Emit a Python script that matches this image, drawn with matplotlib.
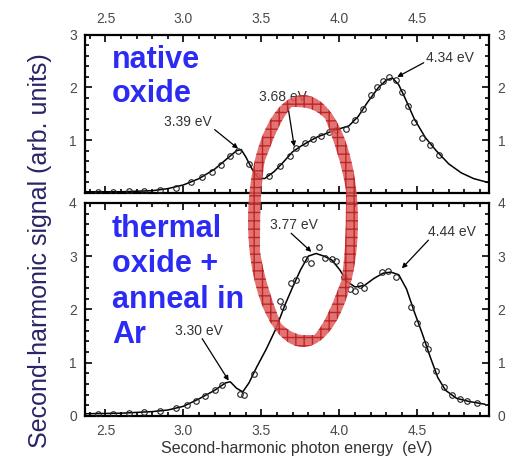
import matplotlib

matplotlib.use("Agg")
import matplotlib.pyplot as plt
from matplotlib.patches import PathPatch
from matplotlib.path import Path
from matplotlib.ticker import MultipleLocator
from matplotlib.transforms import Affine2D

plt.rcParams["font.family"] = ["Liberation Sans", "DejaVu Sans"]

# native oxide: fitted line and measured points
native_line_x = [2.37, 2.6, 2.8, 2.9, 3.0, 3.1, 3.2, 3.28, 3.34, 3.37, 3.40, 3.44, 3.48, 3.52,
                 3.58, 3.63, 3.70, 3.76, 3.85, 3.96, 4.06, 4.12, 4.18, 4.25, 4.30, 4.34, 4.38,
                 4.42, 4.48, 4.55, 4.62, 4.70, 4.78, 4.86, 4.96]
native_line_y = [0.02, 0.02, 0.04, 0.08, 0.15, 0.27, 0.45, 0.65, 0.80, 0.82, 0.68, 0.45, 0.28, 0.27,
                 0.40, 0.55, 0.78, 0.90, 1.05, 1.18, 1.27, 1.45, 1.72, 2.00, 2.14, 2.18, 2.05,
                 1.80, 1.40, 1.05, 0.80, 0.55, 0.38, 0.27, 0.19]
native_pts_x = [2.45, 2.55, 2.65, 2.75, 2.85, 2.95, 3.05, 3.12, 3.18, 3.24, 3.30, 3.35, 3.42, 3.47,
                3.55, 3.62, 3.68, 3.72, 3.78, 3.83, 3.88, 3.93, 3.98, 4.04, 4.10, 4.15, 4.20,
                4.24, 4.28, 4.32, 4.36, 4.40, 4.44, 4.48, 4.53, 4.58, 4.64]
native_pts_y = [0.02, 0.02, 0.03, 0.03, 0.05, 0.10, 0.20, 0.30, 0.40, 0.52, 0.70, 0.80, 0.55, 0.32,
                0.32, 0.50, 0.70, 0.85, 0.95, 1.02, 1.08, 1.15, 1.20, 1.22, 1.38, 1.60, 1.85,
                2.00, 2.12, 2.20, 2.15, 1.92, 1.65, 1.35, 1.05, 0.90, 0.72]

# thermal oxide + anneal in Ar
thermal_line_x = [2.37, 2.6, 2.8, 2.9, 3.0, 3.1, 3.2, 3.27, 3.30, 3.34, 3.38, 3.42, 3.47, 3.53,
                  3.59, 3.65, 3.70, 3.75, 3.80, 3.85, 3.90, 3.95, 4.00, 4.05, 4.10, 4.16, 4.22,
                  4.28, 4.33, 4.38, 4.43, 4.48, 4.53, 4.58, 4.63, 4.68, 4.75, 4.83, 4.93]
thermal_line_y = [0.04, 0.05, 0.08, 0.11, 0.18, 0.32, 0.48, 0.62, 0.64, 0.52, 0.45, 0.62, 0.92, 1.25,
                  1.62, 2.08, 2.42, 2.74, 3.00, 3.05, 3.00, 2.93, 2.75, 2.52, 2.42, 2.45, 2.58,
                  2.68, 2.70, 2.65, 2.38, 1.95, 1.55, 1.12, 0.72, 0.48, 0.33, 0.27, 0.22]
thermal_pts_x = [2.45, 2.55, 2.65, 2.75, 2.85, 2.95, 3.02, 3.08, 3.14, 3.20, 3.25, 3.36, 3.39, 3.45,
                 3.62, 3.64, 3.69, 3.72, 3.78, 3.82, 3.87, 3.91, 3.95, 3.98, 4.03, 4.07, 4.10,
                 4.13, 4.16, 4.27, 4.31, 4.36, 4.46, 4.50, 4.55, 4.57, 4.62, 4.67, 4.72, 4.77,
                 4.82, 4.88]
thermal_pts_y = [0.04, 0.04, 0.05, 0.07, 0.09, 0.14, 0.20, 0.28, 0.37, 0.48, 0.58, 0.42, 0.40, 0.78,
                 2.15, 2.05, 2.50, 2.55, 2.95, 2.88, 3.17, 2.97, 2.95, 2.90, 2.60, 2.38, 2.35,
                 2.45, 2.40, 2.70, 2.72, 2.60, 2.05, 1.75, 1.35, 1.25, 0.85, 0.55, 0.40, 0.32,
                 0.28, 0.25]

# peak labels: (text, text x, text y, arrow start, arrow tip)
native_peaks = [("3.39 eV", 3.03, 1.35, (3.20, 1.20), (3.35, 0.84)),
                ("3.68 eV", 3.64, 1.82, (3.67, 1.63), (3.71, 0.88)),
                ("4.34 eV", 4.71, 2.56, (4.54, 2.47), (4.37, 2.20))]
thermal_peaks = [("3.30 eV", 3.10, 1.60, (3.12, 1.45), (3.29, 0.66)),
                 ("3.77 eV", 3.71, 3.58, (3.69, 3.43), (3.82, 3.08)),
                 ("4.44 eV", 4.72, 3.45, (4.57, 3.30), (4.40, 2.77))]

native_label = ["native", "oxide"]
thermal_label = ["thermal", "oxide +", "anneal in", "Ar"]

XLIM = (2.37, 4.96)
TICK_GRAY = "#4a4a4a"
LABEL_BLUE = "#2b2bf5"


def style_axis(ax, ymax, top_labels):
    ax.set_xlim(*XLIM)
    ax.set_ylim(0, ymax)
    ax.xaxis.set_major_locator(MultipleLocator(0.5))
    ax.xaxis.set_minor_locator(MultipleLocator(0.1))
    ax.yaxis.set_major_locator(MultipleLocator(1))
    ax.yaxis.set_minor_locator(MultipleLocator(0.2))
    ax.tick_params(which="both", direction="in", top=True, right=True, width=1.2,
                   labelsize=10, labelcolor=TICK_GRAY, pad=6)
    ax.tick_params(which="major", length=5)
    ax.tick_params(which="minor", length=3)
    ax.tick_params(axis="y", labelright=True)
    ax.tick_params(axis="y", which="major", pad=6)
    if top_labels:
        ax.tick_params(axis="x", labeltop=True, labelbottom=False)
    for sp in ax.spines.values():
        sp.set_linewidth(1.6)


def draw_panel(ax, lx, ly, px, py, peaks):
    ax.plot(lx, ly, color="black", lw=1.1, zorder=2)
    ax.plot(px, py, "o", ms=4, mfc="none", mec="#222222", mew=0.8, zorder=3)
    for text, tx, ty, start, tip in peaks:
        ax.text(tx, ty, text, fontsize=10, color="#333333", ha="center", va="center")
        ax.annotate("", xy=tip, xytext=start,
                    arrowprops=dict(arrowstyle="-|>", color="black", lw=0.9, mutation_scale=7,
                                    shrinkA=0, shrinkB=0))


fig = plt.figure(figsize=(5.07, 4.58), dpi=100)
ax_top = fig.add_axes([0.168, 0.579, 0.797, 0.345])
ax_bot = fig.add_axes([0.168, 0.092, 0.797, 0.465])

style_axis(ax_top, 3, top_labels=True)
style_axis(ax_bot, 4, top_labels=False)
ax_top.set_yticks([1, 2, 3])

draw_panel(ax_top, native_line_x, native_line_y, native_pts_x, native_pts_y, native_peaks)
draw_panel(ax_bot, thermal_line_x, thermal_line_y, thermal_pts_x, thermal_pts_y, thermal_peaks)

# sample labels, one line per text so baselines match
for i, line in enumerate(native_label):
    fig.text(0.221, 0.8515 - i * 0.0745, line, fontsize=22, fontweight="bold",
             color=LABEL_BLUE, va="baseline")
for i, line in enumerate(thermal_label):
    fig.text(0.221, 0.4825 - i * 0.0771, line, fontsize=22, fontweight="bold",
             color=LABEL_BLUE, va="baseline")

fig.text(0.078, 0.452, "Second-harmonic signal (arb. units)", rotation=90, fontsize=18,
         color="#2a2466", ha="center", va="center")
fig.text(0.586, 0.004, "Second-harmonic photon energy  (eV)", fontsize=11.5,
         color="#333333", ha="center", va="bottom")

# highlight ring around the 3.7 eV region
circ = Path.unit_circle()
cx, cy = 303 / 507, 1 - 221 / 458
outer = circ.transformed(Affine2D().scale(55 / 507, 126 / 458).translate(cx, cy))
inner_v = circ.transformed(Affine2D().scale(43 / 507, 114 / 458).translate(cx, cy)).vertices[::-1]
ring = Path.make_compound_path(outer, Path(inner_v, circ.codes))
fig.add_artist(PathPatch(ring, transform=fig.transFigure, facecolor="#dd5a5a",
                         edgecolor="#b81818", hatch="++", lw=0, alpha=0.85, zorder=10))

fig.savefig("out.png", dpi=100)
